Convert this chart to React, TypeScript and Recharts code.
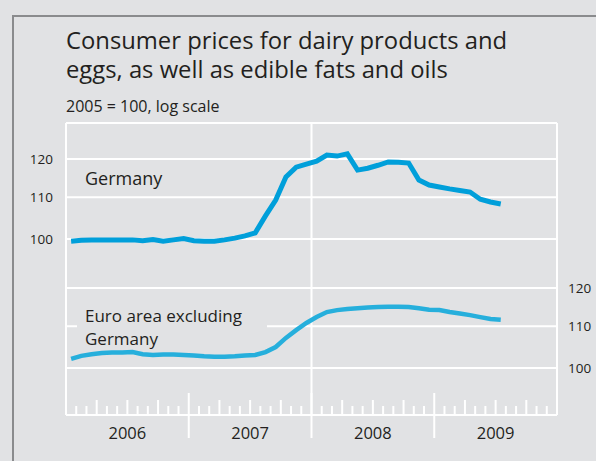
import React from "react";
import { LineChart, Line, XAxis, YAxis, ReferenceLine } from "recharts";

// monthly index values, Jan 2006 .. Jul 2009 (2005 = 100)
const years = ["2006", "2007", "2008", "2009"];

const germany = [
  99.5, 99.7, 99.8, 99.8, 99.8, 99.8, 99.8, 99.6, 99.9, 99.5, 99.8, 100.1,
  99.6, 99.5, 99.5, 99.8, 100.2, 100.7, 101.4, 105.4, 109.3, 115.2, 117.8, 118.6,
  119.4, 121.1, 120.8, 121.4, 117.0, 117.5, 118.3, 119.2, 119.1, 118.9, 114.4, 113.1,
  112.6, 112.1, 111.7, 111.3, 109.5, 108.8, 108.3,
];

const euroExGermany = [
  102.1, 102.8, 103.2, 103.5, 103.6, 103.6, 103.7, 103.2, 103.0, 103.1, 103.1, 103.0,
  102.9, 102.7, 102.6, 102.6, 102.7, 102.9, 103.0, 103.7, 104.9, 107.1, 109.0, 110.8,
  112.3, 113.6, 114.1, 114.4, 114.6, 114.8, 114.9, 115.0, 115.0, 114.9, 114.6, 114.2,
  114.1, 113.6, 113.2, 112.8, 112.3, 111.8, 111.6,
];

const yTicks = [100, 110, 120];
const monthTicks = Array.from({ length: 49 }, (_, i) => i);

const data = germany.map((v, i) => ({ t: i + 0.5, germany: v, euro: euroExGermany[i] }));

const BG = "#e1e2e4";
const TEXT = "#231f20";
const FONT = "'Open Sans', sans-serif";

function MonthTick(props: any) {
  const { x, y, payload } = props;
  const i = payload.value as number;
  const parts: React.ReactNode[] = [];
  if (i > 0 && i < 48) {
    if (i % 12 === 0) {
      parts.push(<line key="l" x1={x} x2={x} y1={y - 22} y2={y + 23} stroke="#fff" strokeWidth={2} />);
    } else if (i % 3 === 0) {
      parts.push(<line key="l" x1={x} x2={x} y1={y - 15} y2={y} stroke="#fff" strokeWidth={2} />);
    } else {
      parts.push(<line key="l" x1={x} x2={x} y1={y - 9} y2={y} stroke="#fff" strokeWidth={2} />);
    }
  }
  if (i % 12 === 6) {
    parts.push(
      <text key="t" x={x} y={y + 24} textAnchor="middle" fontSize={16.5} fill={TEXT} fontFamily={FONT}>
        {years[Math.floor(i / 12)]}
      </text>
    );
  }
  return <g>{parts}</g>;
}

export default function App() {
  const tickStyle = { fontSize: 13.5, fill: TEXT, fontFamily: FONT };
  return (
    <div style={{ position: "absolute", left: 0, top: 0, width: 596, height: 461, background: BG, overflow: "hidden" }}>
      <div
        style={{
          position: "absolute",
          left: 12,
          top: 15,
          width: 700,
          height: 600,
          borderTop: "2.5px solid #8a8b8d",
          borderLeft: "2.5px solid #8a8b8d",
        }}
      />
      <div style={{ position: "absolute", left: 0, top: 0 }}>
        <LineChart width={596} height={461} data={data} margin={{ top: 123, right: 0, bottom: 0, left: 0 }}>
          <XAxis
            dataKey="t"
            type="number"
            domain={[0, 48]}
            ticks={monthTicks}
            interval={0}
            height={46}
            tickSize={0}
            tickMargin={0}
            tickLine={false}
            axisLine={{ stroke: "#fff", strokeWidth: 2 }}
            tick={<MonthTick />}
          />
          <YAxis
            yAxisId="left"
            scale="log"
            domain={[66.96, 130.26]}
            allowDataOverflow
            ticks={yTicks}
            width={66}
            tickSize={0}
            tickMargin={13}
            axisLine={false}
            tickLine={false}
            tick={tickStyle}
          />
          <YAxis
            yAxisId="right"
            orientation="right"
            scale="log"
            domain={[89.84, 174.78]}
            allowDataOverflow
            ticks={yTicks}
            width={39}
            tickSize={0}
            tickMargin={11}
            axisLine={false}
            tickLine={false}
            tick={tickStyle}
          />
          {yTicks.map((v) => (
            <ReferenceLine key={"l" + v} yAxisId="left" y={v} stroke="#fff" strokeWidth={2} />
          ))}
          {yTicks.map((v) => (
            <ReferenceLine key={"r" + v} yAxisId="right" y={v} stroke="#fff" strokeWidth={2} />
          ))}
          <ReferenceLine yAxisId="left" y={130.26} stroke="#fff" strokeWidth={2} ifOverflow="visible" />
          <ReferenceLine yAxisId="left" x={0} stroke="#fff" strokeWidth={2} ifOverflow="visible" />
          <ReferenceLine yAxisId="left" x={24} stroke="#fff" strokeWidth={2} />
          <ReferenceLine yAxisId="left" x={48} stroke="#fff" strokeWidth={2} ifOverflow="visible" />
          <Line
            yAxisId="left"
            type="linear"
            dataKey="germany"
            stroke="#009fda"
            strokeWidth={5}
            dot={false}
            isAnimationActive={false}
          />
          <Line
            yAxisId="right"
            type="linear"
            dataKey="euro"
            stroke="#26afdc"
            strokeWidth={4.5}
            dot={false}
            isAnimationActive={false}
          />
        </LineChart>
      </div>
      <svg width={596} height={461} style={{ position: "absolute", left: 0, top: 0, pointerEvents: "none" }}>
        <g fontFamily={FONT} fill={TEXT}>
          <text x={66} y={49} fontSize={23.8}>Consumer prices for dairy products and</text>
          <text x={66} y={78} fontSize={23.8}>eggs, as well as edible fats and oils</text>
          <text x={66} y={112} fontSize={16}>2005 = 100, log scale</text>
          <text x={85} y={185} fontSize={18}>Germany</text>
          <rect x={77} y={310} width={190} height={39} fill={BG} />
          <text x={85} y={321.5} fontSize={17}>
            <tspan x={85}>Euro area excluding</tspan>
            <tspan x={85} dy={23.5}>Germany</tspan>
          </text>
        </g>
      </svg>
    </div>
  );
}
